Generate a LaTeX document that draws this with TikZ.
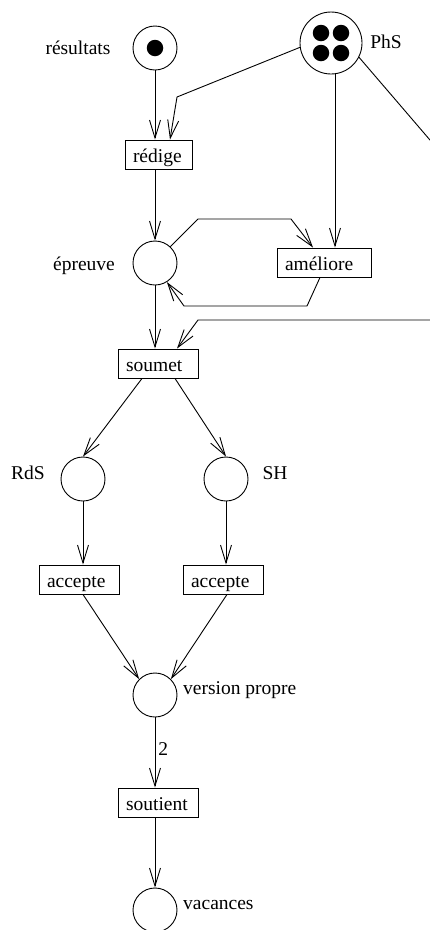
\documentclass[tikz,border=0pt]{standalone}
\usepackage{fontspec}
\setmainfont{Liberation Serif}
\usetikzlibrary{arrows.meta}
\begin{document}
\begin{tikzpicture}[x=1pt,y=-1pt,
  font=\fontsize{19.5}{23}\selectfont,
  place/.style={circle,draw,line width=0.9pt,minimum size=44pt,inner sep=0pt},
  tok/.style={circle,fill,inner sep=0pt,minimum size=16.5pt},
  trans/.style={draw,line width=0.9pt,inner xsep=8pt,inner ysep=0pt,text height=22pt,text depth=7pt,align=left,text width=#1},
  arc/.style={line width=0.9pt,-{Straight Barb[length=18pt,width=11pt,line width=0.9pt]}}]
\useasboundingbox (0,0) rectangle (430,930);
\clip (0,0) rectangle (430,930);
% places
\node[place] (res) at (155,48) {};
\node[tok] (t0) at (res) {};
\node (lres) at (78,48) {résultats};
\node[place,minimum size=62pt] (phs) at (331,43) {};
\node[tok] (t1) at (321,33) {};
\node[tok] (t2) at (341,33) {};
\node[tok] (t3) at (321,53) {};
\node[tok] (t4) at (341,53) {};
\node (lphs) at (386,42) {PhS};
\node[place] (epr) at (155,263) {};
\node (lepr) at (84,266) {épreuve};
\node[place] (rds) at (83,479) {};
\node (lrds) at (28,473) {RdS};
\node[place] (sh) at (226,479) {};
\node (lsh) at (275,473) {SH};
\node[place] (vp) at (155,695) {};
\node[anchor=west,inner sep=0pt] (lvp) at (183,690) {version propre};
\node[place] (vac) at (155,910) {};
\node[anchor=west,inner sep=0pt] (lvac) at (183,905) {vacances};
% transitions
\node[trans=51pt] (redige) at (158.5,154.5) {rédige};
\node[trans=78pt] (amel) at (324,262.5) {améliore};
\node[trans=64pt] (soumet) at (158,363.5) {soumet};
\node[trans=64pt] (acc1) at (79,579.5) {accepte};
\node[trans=64pt] (acc2) at (223,579.5) {accepte};
\node[trans=64pt] (sout) at (158,802.5) {soutient};
% bend points
\coordinate (b1) at (177,97);
\coordinate (b2) at (198,219);
\coordinate (b3) at (291,219);
\coordinate (b4) at (307,306);
\coordinate (b5) at (184,306);
\coordinate (b6) at (460,175);
\coordinate (b7) at (460,320);
\coordinate (b8) at (198,320);
% arcs
\draw[arc] (res) -- (res |- redige.north);
\draw[arc] (phs.188) -- (b1) -- ([xshift=11.5pt]redige.north);
\draw[arc] ([xshift=4pt]phs.south) -- ([xshift=4pt]phs.south |- amel.north);
\draw[arc] (redige.south -| epr) -- (epr.north);
\draw[arc] (epr.47) -- (b2) -- (b3) -- ([xshift=-11pt]amel.north);
\draw[arc] ([xshift=-4pt]amel.south) -- (b4) -- (b5) -- (epr.-58);
\draw[arc] (epr) -- (epr |- soumet.north);
\draw[arc] (phs.-27) -- (b6) -- (b7) -- (b8) -- ([xshift=19pt]soumet.north);
\draw[arc] ([xshift=-16pt]soumet.south) -- (rds.north);
\draw[arc] ([xshift=17pt]soumet.south) -- (sh.north);
\draw[arc] (rds) -- (rds |- acc1.north);
\draw[arc] (sh) -- (sh |- acc2.north);
\draw[arc] ([xshift=4pt]acc1.south) -- (vp.135);
\draw[arc] ([xshift=4pt]acc2.south) -- (vp.45);
\draw[arc] (vp) -- (vp |- sout.north) node[pos=0.45,right,inner sep=3pt] (l2) {2};
\draw[arc] (sout.south -| vac) -- (vac.north);
\end{tikzpicture}
\end{document}
